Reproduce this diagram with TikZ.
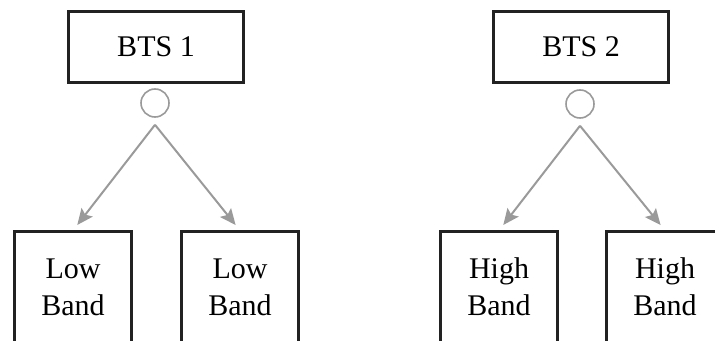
\documentclass[tikz,border=0pt]{standalone}
\usepackage{fontspec}
\setmainfont{Liberation Serif}
\usetikzlibrary{arrows.meta}
\definecolor{boxline}{HTML}{222222}
\definecolor{linkgray}{HTML}{9A9A9A}
\tikzset{
  btsbox/.style={draw=boxline, line width=1.5pt, minimum width=87.5pt, minimum height=35.5pt, inner sep=0pt},
  bandbox/.style={draw=boxline, line width=1.5pt, minimum width=58.5pt, minimum height=55pt, inner sep=0pt, align=center},
  joint/.style={draw=linkgray, line width=0.8pt, circle, minimum size=14pt, inner sep=0pt},
  link/.style={draw=linkgray, line width=1pt, -{Stealth[length=8pt,width=7pt,inset=1.5pt]}, shorten >=3.5pt}
}
\begin{document}
\begin{tikzpicture}[x=0.5pt, y=-0.5pt, font=\fontsize{15}{18.5}\selectfont]

    % Frame of the picture
    \clip (0,0) rectangle (715,341);

    % Left group
    \node[btsbox] (bts1) at (156,47) {BTS 1};
    \node[joint] (j1) at (155,103) {};
    \coordinate (a1) at ([yshift=-3.5pt]j1.south);
    \node[bandbox] (lo1) at (73,287) {Low\\Band};
    \node[bandbox] (lo2) at (240,287) {Low\\Band};
    \draw[link] (a1) -- (lo1.north);
    \draw[link] (a1) -- (lo2.north);

    % Right group
    \node[btsbox] (bts2) at (581,47) {BTS 2};
    \node[joint] (j2) at (580,104) {};
    \coordinate (a2) at ([yshift=-3.5pt]j2.south);
    \node[bandbox] (hi1) at (499,287) {High\\Band};
    \node[bandbox] (hi2) at (665,287) {High\\Band};
    \draw[link] (a2) -- (hi1.north);
    \draw[link] (a2) -- (hi2.north);

\end{tikzpicture}
\end{document}
